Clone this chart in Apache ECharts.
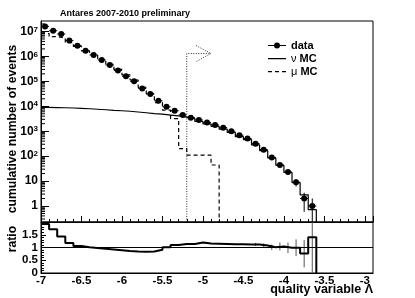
<!DOCTYPE html>
<html><head><meta charset="utf-8">
<script src="https://cdn.jsdelivr.net/npm/echarts@6/dist/echarts.min.js"></script>
<style>html,body{margin:0;padding:0;background:#fff}#c{width:415px;height:298px}</style>
</head><body><div id="c"></div>
<script>
// ---- data ----
const binCenters = [-6.95,-6.85,-6.75,-6.65,-6.55,-6.45,-6.35,-6.25,-6.15,-6.05,
  -5.95,-5.85,-5.75,-5.65,-5.55,-5.45,-5.35,-5.25,-5.15,-5.05,
  -4.95,-4.85,-4.75,-4.65,-4.55,-4.45,-4.35,-4.25,-4.15,-4.05,
  -3.95,-3.85,-3.75,-3.65];
const binWidth = 0.1;
const dataCounts = [1.6e7,1.07e7,7.9e6,4.3e6,2.7e6,1.7e6,1.15e6,7.2e5,4.5e5,2.7e5,
  1.6e5,1.0e5,5.2e4,3.1e4,1.66e4,9500,6600,4500,3500,2800,
  2240,1780,1380,1000,690,510,316,182,89,44,
  23,9,2,1];
const nuMC = [9100,8900,8700,8500,8300,7950,7600,7250,6900,6600,
  6300,5900,5500,5100,4800,4450,4100,3700,3200,2450,
  1950,1550,1210,885,605,455,282,165,85,43,
  22,8.7,2.8,0.71];
const muMC = [8.3e6,6.2e6,5.5e6,3.6e6,2.5e6,1.65e6,1.15e6,7.5e5,4.85e5,3.0e5,
  1.8e5,1.13e5,5.7e4,3.2e4,1.4e4,7000,3200,200,110,110,
  110,44,0,0,0,0,0,0,0,0,
  0,0,0,0];
const ratioValues = [1.92,1.72,1.43,1.18,1.06,1.01,0.98,0.95,0.92,0.89,
  0.86,0.84,0.83,0.84,0.91,1.01,1.10,1.14,1.14,1.20,
  1.16,1.15,1.14,1.13,1.13,1.12,1.12,1.08,1.01,1.04,
  0.99,0.99,0.76,1.40];
const xTickLabels = ['-7','-6.5','-6','-5.5','-5','-4.5','-4','-3.5','-3'];
const yTickLabels = ['1','10','10^2','10^3','10^4','10^5','10^6','10^7'];
const cutValue = -5.2;
const cutArrowLevel = 1.3e6;
const cutArrowLength = 0.3;

// ---- axis ranges ----
const X_MIN = -7, X_MAX = -2.9;
const Y_MIN = 0.228, Y_MAX = 2.63e7;
const FLOOR = 1e-3;
const FONT = 'Liberation Sans, Arial, Helvetica, sans-serif';

function histPoints(values, floorVal) {
  const pts = [];
  let lastEdge = null;
  for (let i = 0; i < values.length; i++) {
    const v = values[i];
    if (!(v > 0)) break;
    const c = binCenters[i];
    pts.push([c - binWidth / 2, v], [c + binWidth / 2, v]);
    lastEdge = c + binWidth / 2;
  }
  if (lastEdge !== null) pts.push([lastEdge, floorVal]);
  return pts;
}

const dotData = binCenters.map((c, i) => [c, dataCounts[i]]);
const errData = binCenters.map((c, i) => {
  const n = dataCounts[i], e = Math.sqrt(n);
  return [c, n, Math.max(n - e, FLOOR), n + e];
});
const ratioErr = binCenters.map((c, i) => {
  const r = ratioValues[i], e = r / Math.sqrt(dataCounts[i]);
  return [c, r, Math.max(r - e, 0), r + e, e];
}).filter(d => d[4] > 0.05);

const minorTickVals = [];
for (let p = -1; p <= 7; p++) for (let k = 2; k <= 9; k++) {
  const v = k * Math.pow(10, p);
  if (v > Y_MIN && v < Y_MAX) minorTickVals.push([X_MIN, v]);
}

const chart = echarts.init(document.getElementById('c'), null, {renderer: 'canvas'});

function yLabel(v) {
  const l = Math.log10(v), n = Math.round(l);
  if (Math.abs(l - n) > 1e-6 || n < 0 || n >= yTickLabels.length) return '';
  const t = yTickLabels[n];
  if (t.indexOf('^') < 0) return '{b|' + t + '}';
  const parts = t.split('^');
  return '{b|' + parts[0] + '}{s|' + parts[1] + '}';
}
function xLabel(v) {
  const idx = Math.round((v - X_MIN) / 0.5);
  if (Math.abs(X_MIN + idx * 0.5 - v) > 1e-6) return '';
  return xTickLabels[idx] || '';
}

// legend icons (bounding box kept at 18x7 by tiny corner marks)
const BOX = 'M0,0h0.01v0.01h-0.01z M17.99,6.99h0.01v0.01h-0.01z ';
const ICON_DATA = 'path://' + BOX + 'M0,3h18v1.1h-18z M12,3.5a3,3 0 1,1 -6,0a3,3 0 1,1 6,0z';
const ICON_SOLID = 'path://' + BOX + 'M0,3h18v1.2h-18z';
const ICON_DASH = 'path://' + BOX + 'M0,3h4v1.2h-4z M7,3h4v1.2h-4z M14,3h4v1.2h-4z';

const option = {
  animation: false,
  backgroundColor: '#fff',
  title: {
    text: 'Antares 2007-2010 preliminary', left: 60, top: 9, padding: 0,
    textStyle: {fontSize: 9, fontWeight: 'bold', fontFamily: FONT, color: '#000'}
  },
  legend: {
    orient: 'vertical', left: 263, top: 35, itemWidth: 18, itemHeight: 7, itemGap: 2,
    selectedMode: false,
    data: [
      {name: 'data', icon: ICON_DATA},
      {name: 'ν MC', icon: ICON_SOLID},
      {name: 'μ MC', icon: ICON_DASH}
    ],
    formatter: function (name) {
      if (name === 'data') return '{b|data}';
      const p = name.split(' ');
      return '{g|' + p[0] + '} {b|' + p[1] + '}';
    },
    itemStyle: {color: '#000', opacity: 1},
    textStyle: {
      fontFamily: FONT, color: '#000', fontSize: 11,
      rich: {
        b: {fontSize: 11, fontWeight: 'bold', fontFamily: FONT, color: '#000', lineHeight: 11},
        g: {fontSize: 11, fontWeight: 'normal', fontFamily: FONT, color: '#000', lineHeight: 11}
      }
    }
  },
  grid: [
    {left: 41, right: 42, top: 21, height: 201, show: true, borderColor: '#000', borderWidth: 1, backgroundColor: 'transparent'},
    {left: 41, right: 42, top: 222, height: 51, show: true, borderColor: '#000', borderWidth: 1, backgroundColor: 'transparent'}
  ],
  xAxis: [
    {
      type: 'value', gridIndex: 0, min: X_MIN, max: X_MAX, interval: 0.5,
      axisLine: {show: true, onZero: false, lineStyle: {color: '#000'}},
      axisTick: {show: true, inside: true, length: 6, lineStyle: {color: '#000'}},
      minorTick: {show: true, splitNumber: 5, length: 3, lineStyle: {color: '#000'}},
      axisLabel: {show: false}, splitLine: {show: false}
    },
    {
      type: 'value', gridIndex: 1, min: X_MIN, max: X_MAX, interval: 0.5,
      axisLine: {show: true, onZero: false, lineStyle: {color: '#000'}},
      axisTick: {show: false},
      axisLabel: {show: true, margin: 2, showMaxLabel: false, formatter: xLabel,
        fontSize: 11.5, fontWeight: 'bold', fontFamily: FONT, color: '#000'},
      splitLine: {show: false}
    }
  ],
  yAxis: [
    {
      type: 'log', gridIndex: 0, min: Y_MIN, max: Y_MAX, logBase: 10, splitNumber: 8,
      axisLine: {show: true, onZero: false, lineStyle: {color: '#000'}},
      axisTick: {show: true, inside: true, length: 8, lineStyle: {color: '#000'}},
      axisLabel: {
        show: true, margin: 3, formatter: yLabel, showMinLabel: false, showMaxLabel: false,
        rich: {
          b: {fontSize: 12, fontWeight: 'bold', fontFamily: FONT, color: '#000', lineHeight: 12},
          s: {fontSize: 8, fontWeight: 'bold', fontFamily: FONT, color: '#000', verticalAlign: 'top', lineHeight: 8}
        }
      },
      splitLine: {show: false}
    },
    {
      type: 'value', gridIndex: 1, min: 0, max: 2, interval: 0.5,
      axisLine: {show: true, onZero: false, lineStyle: {color: '#000'}},
      axisTick: {show: true, inside: true, length: 5, lineStyle: {color: '#000'}},
      minorTick: {show: true, splitNumber: 5, length: 3, lineStyle: {color: '#000'}},
      axisLabel: {show: true, margin: 3, showMaxLabel: false,
        fontSize: 11.5, fontWeight: 'bold', fontFamily: FONT, color: '#000'},
      splitLine: {show: false}
    }
  ],
  series: [
    {
      name: 'μ MC', type: 'line', xAxisIndex: 0, yAxisIndex: 0, symbol: 'none', clip: true,
      data: histPoints(muMC, FLOOR), color: '#000',
      lineStyle: {color: '#000', width: 1.2, type: [4, 3]}
    },
    {
      name: 'ν MC', type: 'line', xAxisIndex: 0, yAxisIndex: 0, symbol: 'none', clip: true,
      data: histPoints(nuMC, FLOOR), color: '#000',
      lineStyle: {color: '#000', width: 1.2}
    },
    {
      name: 'dataErr', type: 'custom', xAxisIndex: 0, yAxisIndex: 0, clip: true, silent: true,
      data: errData,
      renderItem: function (params, api) {
        const x = api.value(0), y = api.value(1);
        const a = api.coord([x, api.value(2)]), b = api.coord([x, api.value(3)]);
        const l = api.coord([x - binWidth / 2, y]), r = api.coord([x + binWidth / 2, y]);
        return {type: 'group', children: [
          {type: 'line', shape: {x1: a[0], y1: a[1], x2: b[0], y2: b[1]}, style: {stroke: '#000', lineWidth: 1}},
          {type: 'line', shape: {x1: l[0], y1: l[1], x2: r[0], y2: r[1]}, style: {stroke: '#000', lineWidth: 1}}
        ]};
      }
    },
    {
      name: 'data', type: 'scatter', xAxisIndex: 0, yAxisIndex: 0, symbol: 'circle', symbolSize: 6,
      data: dotData, itemStyle: {color: '#000', opacity: 1}, clip: true
    },
    {
      name: 'minorTicks', type: 'custom', xAxisIndex: 0, yAxisIndex: 0, silent: true,
      data: minorTickVals,
      renderItem: function (params, api) {
        const p = api.coord([api.value(0), api.value(1)]);
        return {type: 'line', shape: {x1: p[0], y1: p[1], x2: p[0] + 4, y2: p[1]}, style: {stroke: '#000', lineWidth: 1}};
      }
    },
    {
      name: 'ratio', type: 'line', xAxisIndex: 1, yAxisIndex: 1, symbol: 'none', clip: true,
      data: histPoints(ratioValues, 0),
      lineStyle: {color: '#000', width: 2},
      markLine: {silent: true, symbol: 'none', label: {show: false},
        lineStyle: {color: '#000', width: 1, type: 'solid'}, data: [{yAxis: 1}]}
    },
    {
      name: 'ratioErr', type: 'custom', xAxisIndex: 1, yAxisIndex: 1, clip: true, silent: true,
      data: ratioErr,
      renderItem: function (params, api) {
        const x = api.value(0);
        const a = api.coord([x, api.value(2)]), b = api.coord([x, api.value(3)]);
        return {type: 'line', shape: {x1: a[0], y1: a[1], x2: b[0], y2: b[1]}, style: {stroke: '#555', lineWidth: 1}};
      }
    }
  ]
};
chart.setOption(option);

// cut annotation and axis titles
const finder = {xAxisIndex: 0, yAxisIndex: 0};
const pBottom = chart.convertToPixel(finder, [cutValue, Y_MIN]);
const pCorner = chart.convertToPixel(finder, [cutValue, cutArrowLevel]);
const pTip = chart.convertToPixel(finder, [cutValue + cutArrowLength, cutArrowLevel]);
const dotted = {stroke: '#333', lineWidth: 1, lineDash: [1, 1.5], fill: null};
chart.setOption({
  graphic: [
    {type: 'polyline', silent: true, shape: {points: [pBottom, pCorner, pTip]}, style: dotted},
    {type: 'polyline', silent: true, shape: {points: [[pTip[0] - 15, pTip[1] - 8], pTip, [pTip[0] - 15, pTip[1] + 8]]}, style: dotted},
    {type: 'text', silent: true, x: 13, y: 129, rotation: Math.PI / 2,
      style: {text: 'cumulative number of events', fontSize: 12.2, fontWeight: 'bold', fontFamily: FONT,
        fill: '#000', align: 'center', verticalAlign: 'middle'}},
    {type: 'text', silent: true, x: 13, y: 239, rotation: Math.PI / 2,
      style: {text: 'ratio', fontSize: 12.2, fontWeight: 'bold', fontFamily: FONT,
        fill: '#000', align: 'center', verticalAlign: 'middle'}},
    {type: 'text', silent: true, x: 373, y: 290,
      style: {text: 'quality variable Λ', fontSize: 12.5, fontWeight: 'bold', fontFamily: FONT,
        fill: '#000', align: 'right', verticalAlign: 'middle'}}
  ]
});
</script>
</body></html>
